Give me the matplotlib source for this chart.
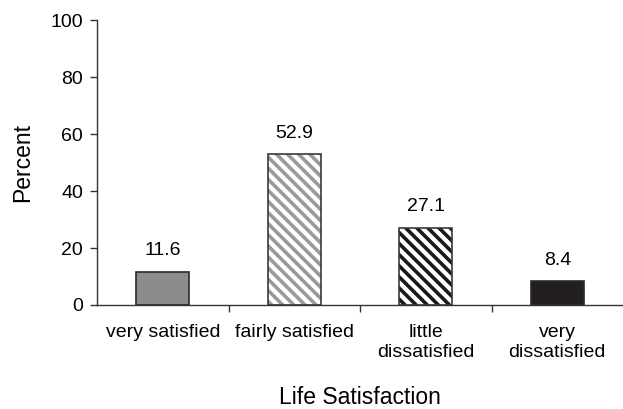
import matplotlib.pyplot as plt
import numpy as np

categories = ['very satisfied', 'fairly satisfied', 'little\ndissatisfied', 'very\ndissatisfied']
percent = [11.6, 52.9, 27.1, 8.4]
face_colors = ['#8c8c8c', 'white', 'white', '#231f20']
hatch_colors = [None, '#9a9a9a', '#1a1a1a', None]

plt.rcParams['font.family'] = ['Liberation Sans', 'DejaVu Sans']
plt.rcParams['hatch.linewidth'] = 2.6

fig = plt.figure(figsize=(6.23, 4.09), dpi=100)
ax = fig.add_axes([0.1557, 0.2543, 0.8443, 0.6967])

x = np.arange(len(categories))
width = 0.4

for i in range(len(categories)):
    if hatch_colors[i] is not None:
        # hatch layer first, outline drawn on top
        ax.bar(x[i], percent[i], width, color=face_colors[i], edgecolor=hatch_colors[i],
               hatch='\\\\\\', linewidth=0)
        ax.bar(x[i], percent[i], width, fill=False, edgecolor='#3a3a3a', linewidth=1.2)
    else:
        ax.bar(x[i], percent[i], width, color=face_colors[i], edgecolor='#2a2a2a', linewidth=1.2)
    ax.annotate(f'{percent[i]:.1f}', (x[i], percent[i]), xytext=(0, 9),
                textcoords='offset points', ha='center', va='bottom', fontsize=14)

ax.set_xlim(-0.5, 3.5)
ax.set_ylim(0, 100)
ax.set_yticks([0, 20, 40, 60, 80, 100])
ax.set_xticks(x)
ax.set_xticklabels(categories, fontsize=14)
ax.set_xticks([0.5, 1.5, 2.5], minor=True)
ax.tick_params(axis='x', which='major', length=0, pad=14)
ax.tick_params(axis='x', which='minor', length=5, color='#333333', width=1)
ax.tick_params(axis='y', length=5, labelsize=14, color='#333333', width=1, pad=5)

for side in ['top', 'right']:
    ax.spines[side].set_visible(False)
for side in ['left', 'bottom']:
    ax.spines[side].set_color('#333333')
    ax.spines[side].set_linewidth(1)

ax.set_ylabel('Percent', fontsize=16.5, labelpad=12)
ax.set_xlabel('Life Satisfaction', fontsize=16.5, labelpad=18)

plt.savefig('out.png', dpi=100)
